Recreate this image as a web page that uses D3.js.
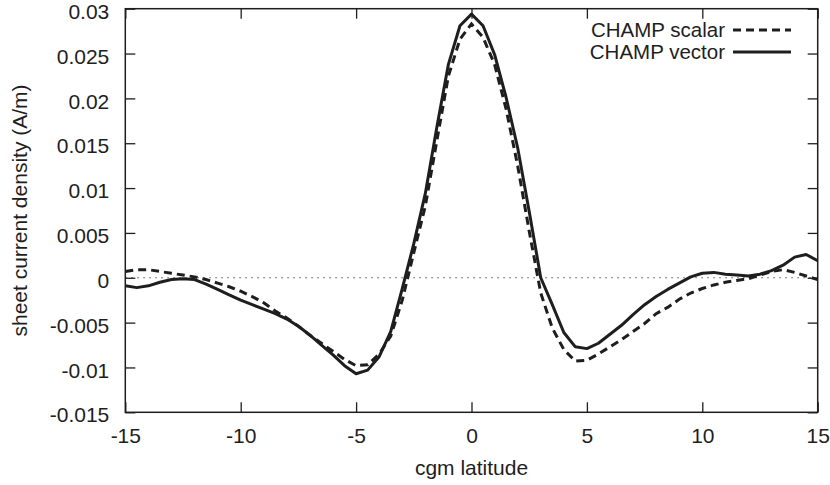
<!DOCTYPE html>
<html>
<head>
<meta charset="utf-8">
<script src="https://cdn.jsdelivr.net/npm/d3@7"></script>
<style>
  html, body { margin: 0; padding: 0; background: #fff; }
  svg { display: block; font-family: "Liberation Sans", Arial, Helvetica, sans-serif; }
</style>
</head>
<body>
<svg id="chart" width="830" height="485"></svg>
<script>
// ---- data ----
const latitude = [-15,-14.5,-14,-13.5,-13,-12.5,-12,-11.5,-11,-10.5,-10,-9.5,-9,-8.5,-8,-7.5,-7,-6.5,-6,-5.5,-5,-4.5,-4,-3.5,-3,-2.5,-2,-1.5,-1,-0.5,0,0.5,1,1.5,2,2.5,3,3.5,4,4.5,5,5.5,6,6.5,7,7.5,8,8.5,9,9.5,10,10.5,11,11.5,12,12.5,13,13.5,14,14.5,15];

const champScalar = [0.0007,0.0009,0.0009,0.0007,0.0005,0.0003,0.0001,-0.0002,-0.0006,-0.0010,-0.0015,-0.0021,-0.0028,-0.0037,-0.0045,-0.0054,-0.0064,-0.0073,-0.0082,-0.0091,-0.0098,-0.0097,-0.0085,-0.0065,-0.0025,0.0028,0.0080,0.0153,0.0225,0.0266,0.0283,0.0268,0.0238,0.0188,0.0125,0.0052,-0.0017,-0.0056,-0.0080,-0.0093,-0.0092,-0.0085,-0.0077,-0.0069,-0.0060,-0.0051,-0.0040,-0.0033,-0.0024,-0.0017,-0.0012,-0.0008,-0.0005,-0.0003,-0.0001,0.0003,0.0007,0.0009,0.0006,0.0002,-0.0002];

const champVector = [-0.0009,-0.0011,-0.0009,-0.0005,-0.0002,-0.0001,-0.0002,-0.0007,-0.0013,-0.0019,-0.0025,-0.0030,-0.0035,-0.0040,-0.0046,-0.0054,-0.0064,-0.0075,-0.0086,-0.0098,-0.0107,-0.0103,-0.0088,-0.0060,-0.0012,0.0038,0.0094,0.0168,0.0238,0.0281,0.0294,0.0281,0.0249,0.0201,0.0145,0.0074,0.0000,-0.0030,-0.0061,-0.0077,-0.0079,-0.0073,-0.0063,-0.0053,-0.0041,-0.0030,-0.0021,-0.0013,-0.0006,0.0001,0.0005,0.0006,0.0004,0.0003,0.0002,0.0004,0.0008,0.0014,0.0023,0.0026,0.0019];

const xTicks = [-15,-10,-5,0,5,10,15];
const xTickLabels = ["-15","-10","-5","0","5","10","15"];
const yTicks = [-0.015,-0.01,-0.005,0,0.005,0.01,0.015,0.02,0.025,0.03];
const yTickLabels = ["-0.015","-0.01","-0.005","0","0.005","0.01","0.015","0.02","0.025","0.03"];

const seriesNames = ["CHAMP scalar","CHAMP vector"];
const xLabel = "cgm latitude";
const yLabel = "sheet current density (A/m)";

// ---- layout ----
const L = 125.3, R = 817.7, T = 8.7, B = 412.3;
const ink = "#1e1e1e";
const svg = d3.select("#chart");

const x = d3.scaleLinear().domain([-15, 15]).range([L, R]);
const y = d3.scaleLinear().domain([-0.015, 0.03]).range([B, T]);

// zero line
svg.append("line")
  .attr("x1", x(-15)).attr("x2", x(15))
  .attr("y1", y(0)).attr("y2", y(0))
  .attr("stroke", "#555").attr("stroke-width", 1)
  .attr("stroke-dasharray", "1.5,4.5");

// axes
const fontSize = 21;
const gx = svg.append("g").attr("transform", `translate(0,${B})`)
  .call(d3.axisBottom(x).tickValues(xTicks).tickSizeInner(-10).tickSizeOuter(0)
    .tickPadding(16).tickFormat((d,i) => xTickLabels[i]));
const gy = svg.append("g").attr("transform", `translate(${L},0)`)
  .call(d3.axisLeft(y).tickValues(yTicks).tickSizeInner(-10).tickSizeOuter(0)
    .tickPadding(16).tickFormat((d,i) => yTickLabels[i]));
const gt = svg.append("g").attr("transform", `translate(0,${T})`)
  .call(d3.axisTop(x).tickValues(xTicks).tickSizeInner(-10).tickSizeOuter(0).tickFormat(""));
const gr = svg.append("g").attr("transform", `translate(${R},0)`)
  .call(d3.axisRight(y).tickValues(yTicks).tickSizeInner(-10).tickSizeOuter(0).tickFormat(""));

[gx, gy, gt, gr].forEach(g => {
  g.select(".domain").remove();
  g.selectAll(".tick line").attr("stroke", ink).attr("stroke-width", 1.3);
  g.selectAll(".tick text").attr("fill", ink).attr("font-size", fontSize)
    .attr("font-family", "'Liberation Sans', Arial, Helvetica, sans-serif");
});
gy.selectAll(".tick text").attr("dy", "0.46em");
gx.selectAll(".tick text").attr("dy", "0.68em");

// frame
svg.append("rect")
  .attr("x", L).attr("y", T).attr("width", R - L).attr("height", B - T)
  .attr("fill", "none").attr("stroke", ink).attr("stroke-width", 1.5);

// lines
const line = d3.line().x((d,i) => x(latitude[i])).y(d => y(d));
svg.append("path").datum(champScalar)
  .attr("d", line).attr("fill", "none").attr("stroke", ink)
  .attr("stroke-width", 3).attr("stroke-dasharray", "8,5");
svg.append("path").datum(champVector)
  .attr("d", line).attr("fill", "none").attr("stroke", ink)
  .attr("stroke-width", 3).attr("stroke-linejoin", "round");

// legend
const legY = [30, 52];
const legendText = svg.append("g")
  .attr("font-size", 20.5).attr("fill", ink);
seriesNames.forEach((name, i) => {
  legendText.append("text")
    .attr("x", 725).attr("y", legY[i]).attr("dy", "0.35em")
    .attr("text-anchor", "end").text(name);
  svg.append("line")
    .attr("x1", 733).attr("x2", 791)
    .attr("y1", legY[i]).attr("y2", legY[i])
    .attr("stroke", ink).attr("stroke-width", 3)
    .attr("stroke-dasharray", i === 0 ? "8,5" : null);
});

// axis titles
svg.append("text")
  .attr("x", (L + R) / 2).attr("y", 468).attr("dy", "0.35em")
  .attr("text-anchor", "middle").attr("font-size", fontSize).attr("fill", ink)
  .text(xLabel);
svg.append("text")
  .attr("transform", `translate(20,${(T + B) / 2}) rotate(-90)`)
  .attr("dy", "0.35em")
  .attr("text-anchor", "middle").attr("font-size", fontSize).attr("fill", ink)
  .text(yLabel);
</script>
</body>
</html>
